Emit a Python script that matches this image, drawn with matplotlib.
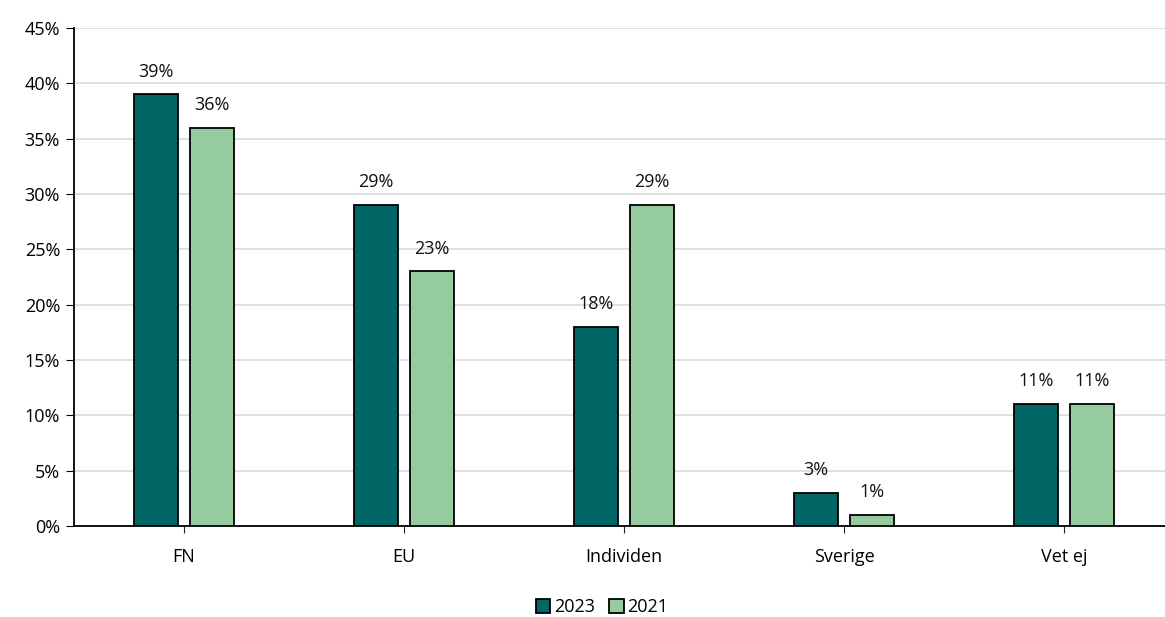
import matplotlib
matplotlib.use('Agg')
import matplotlib.pyplot as plt
import numpy as np

categories = ["FN", "EU", "Individen", "Sverige", "Vet ej"]
values_2023 = [39, 29, 18, 3, 11]
values_2021 = [36, 23, 29, 1, 11]
series_names = ["2023", "2021"]

plt.rcParams['font.family'] = ['Open Sans', 'DejaVu Sans']

fig = plt.figure(figsize=(11.65, 6.17), dpi=100)
ax = fig.add_axes([74 / 1165, 1 - 526 / 617, 1100 / 1165, 498 / 617])

x = np.arange(len(categories))
w = 0.2
off = 0.127
b1 = ax.bar(x - off, values_2023, w, color='#006666', edgecolor='black', linewidth=1.3,
            label=series_names[0], zorder=3)
b2 = ax.bar(x + off, values_2021, w, color='#95CB9E', edgecolor='black', linewidth=1.3,
            label=series_names[1], zorder=3)

for bars in (b1, b2):
    for rect in bars:
        h = rect.get_height()
        ax.annotate(f"{h:.0f}%", (rect.get_x() + rect.get_width() / 2, h),
                    xytext=(0, 10), textcoords='offset points',
                    ha='center', va='bottom', fontsize=13, color='#111111')

ax.set_xlim(-0.5, 4.5)
ax.set_ylim(0, 45)
ax.set_yticks(np.arange(0, 46, 5))
ax.set_yticklabels([f"{v}%" for v in range(0, 46, 5)], fontsize=13)
ax.set_xticks(x)
ax.set_xticklabels(categories, fontsize=13)
ax.tick_params(axis='x', length=5, pad=11, color='#222222')
ax.tick_params(axis='y', length=6, pad=4, color='black')
ax.yaxis.grid(True, color='#d9d9d9', linewidth=1.2, zorder=0)
ax.set_axisbelow(True)

for s in ['top', 'right']:
    ax.spines[s].set_visible(False)
ax.spines['left'].set_linewidth(1.3)
ax.spines['bottom'].set_linewidth(1.3)

fig.legend(handles=[b1, b2], loc='center', bbox_to_anchor=(602 / 1165, 1 - 607 / 617),
           ncol=2, frameon=False, fontsize=13, handlelength=0.8, handleheight=0.8,
           handletextpad=0.2, columnspacing=0.8, borderaxespad=0, borderpad=0)

fig.savefig('out.png', dpi=100)
